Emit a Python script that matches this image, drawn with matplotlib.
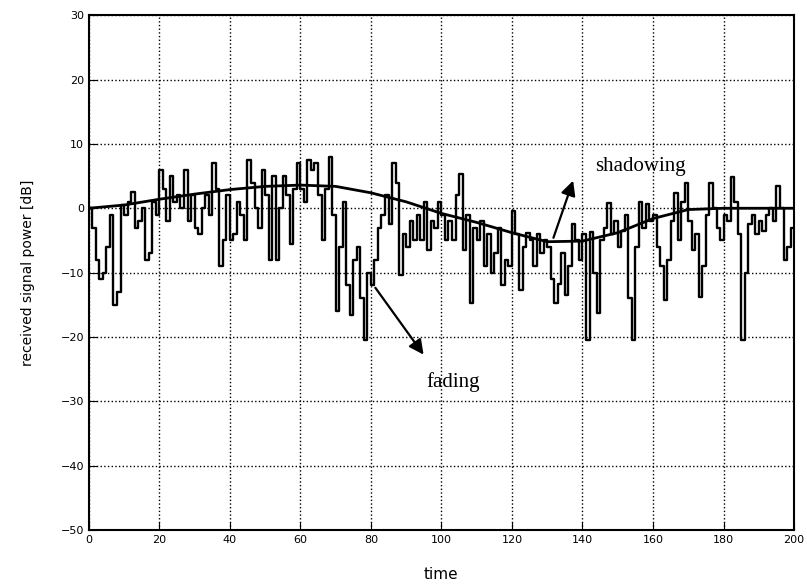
import numpy as np
import matplotlib
matplotlib.use("Agg")
import matplotlib.pyplot as plt

# received power (fading + shadowing), one value per time step
received = [
    0, -3, -8, -11, -10, -6, -1, -15, -13, 0.5,
    -1, 1, 2.5, -3, -2, 0, -8, -7, 1, -1,
    6, 3, -2, 5, 1, 2, 0, 6, -2, 2,
    -3, -4, 0, 2, -1, 7, 3, -9, -5, 2,
    -5, -4, 1, -1, -5, 7.5, 4, 0, -3, 6,
    2, -8, 5, -8, 0, 5, 2, -5.5, 3, 7,
    3, 1, 7.5, 6, 7, 2, -5, 3, 8, -1,
    -16, -6, 1, -12, -16.6, -8, -6, -14, -20.5, -10,
    -12, -8, -3, -1, 2, -2.4, 7, 4, -10.4, -4,
    -6, -2, -5, -1, -5, 1, -6.5, -2, -3, 1,
    -1, -5, -2, -5, 2, 5.4, -6.5, -1, -14.8, -3,
    -5, -2, -8.9, -4, -10, -7, -3, -12, -8, -9,
    -0.5, -4, -12.7, -6, -3.9, -5, -9, -4, -7, -5,
    -6, -11, -14.8, -11.7, -7, -13.5, -9, -2.5, -5, -8,
    -4, -20.5, -3.7, -10, -16.3, -5, -3, 0.8, -4, -2,
    -6, -3.5, -1, -14, -20.5, -6, 1, -3, 0.6, -2,
    -1, -6, -9, -14.3, -8, -2, 2.3, -5, 1, 3.9,
    -2, -6.5, -4, -13.8, -9, -1, 3.9, 0, -3, -5,
    -1, -2, 4.8, 1, -4, -20.5, -10, -2.5, -1, -4,
    -2, -3.5, -1, 0, -2, 3.4, 0, -8, -6, -3,
    -3,
]
time = np.arange(len(received))

# slow shadowing trend
shadow_t = [0, 10, 20, 30, 40, 50, 60, 70, 80, 90, 100,
            110, 120, 130, 140, 150, 160, 170, 180, 190, 200]
shadow_db = [0, 0.5, 1.4, 2.2, 2.9, 3.4, 3.6, 3.4, 2.4, 1.0, -0.8,
             -2.2, -3.8, -5.2, -5.1, -3.8, -1.6, -0.2, 0, 0, 0]

fig = plt.figure(figsize=(8.07, 5.85), dpi=100)
ax = fig.add_axes([0.110, 0.094, 0.874, 0.880])

ax.plot(time, received, color='black', linewidth=1.7, drawstyle='steps-post')
ax.plot(shadow_t, shadow_db, color='black', linewidth=2.0)

ax.set_xlim(0, 200)
ax.set_ylim(-50, 30)
ax.set_xticks(range(0, 201, 20))
ax.set_yticks(range(-50, 31, 10))
ax.tick_params(direction='in', labelsize=8, length=6, top=False, right=False)
ax.grid(True, color='black', linestyle=':', linewidth=1.0)
for s in ax.spines.values():
    s.set_linewidth(1.5)

ax.set_xlabel('time', fontsize=11, labelpad=16)
ax.set_ylabel('received signal power [dB]', fontsize=10, labelpad=18)

# annotations
ax.annotate('', xy=(137.6, 4.7), xytext=(131.5, -5.0),
            arrowprops=dict(arrowstyle='-|>', color='black', lw=1.6, mutation_scale=22))
ax.text(156.4, 6.5, 'shadowing', family='Liberation Serif', fontsize=15,
        ha='center', va='center')
ax.annotate('', xy=(95.4, -23.1), xytext=(80.8, -12.0),
            arrowprops=dict(arrowstyle='-|>', color='black', lw=1.6, mutation_scale=22))
ax.text(103.2, -27.0, 'fading', family='Liberation Serif', fontsize=15,
        ha='center', va='center')

fig.savefig('out.png', dpi=100)
